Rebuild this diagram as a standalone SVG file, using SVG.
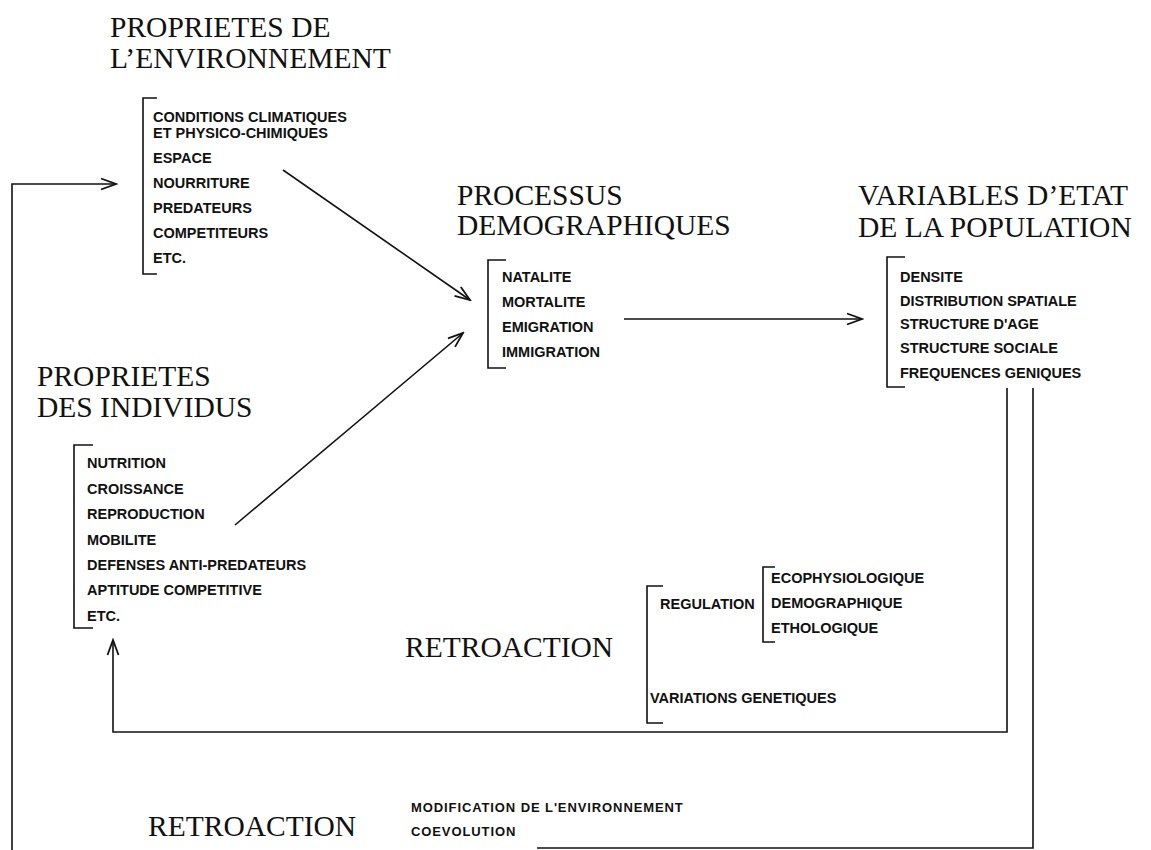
<svg xmlns="http://www.w3.org/2000/svg" width="1151" height="850" viewBox="0 0 1151 850">
  <style>
    .title { font-family: "Liberation Serif", "Times New Roman", serif; font-size: 29.5px; fill: #111; }
    .item { font-family: "Liberation Sans", Arial, sans-serif; font-size: 14.5px; font-weight: bold; fill: #111; }
    .small { font-family: "Liberation Sans", Arial, sans-serif; font-size: 13px; font-weight: bold; letter-spacing: 0.9px; fill: #111; }
    .bracket { fill: none; stroke: #111; stroke-width: 1.6; }
    .link { fill: none; stroke: #111; stroke-width: 1.6; }
  </style>
  <defs>
    <marker id="arrow" markerUnits="userSpaceOnUse" viewBox="-16 -7 18 14" refX="0" refY="0" markerWidth="18" markerHeight="14" orient="auto">
      <path d="M-15,-5.5 L0,0 L-15,5.5" fill="none" stroke="#111" stroke-width="1.8"/>
    </marker>
  </defs>
  <rect width="1151" height="850" fill="#fff"/>

  <!-- environment properties -->
  <g id="environnement">
    <text class="title" x="110" y="37">PROPRIETES DE</text>
    <text class="title" x="110" y="68">L’ENVIRONNEMENT</text>
    <path class="bracket" d="M157,98 H143 V274 H157"/>
    <text class="item" x="153" y="122">CONDITIONS CLIMATIQUES</text>
    <text class="item" x="153" y="138">ET PHYSICO-CHIMIQUES</text>
    <text class="item" x="153" y="163">ESPACE</text>
    <text class="item" x="153" y="188">NOURRITURE</text>
    <text class="item" x="153" y="213">PREDATEURS</text>
    <text class="item" x="153" y="238">COMPETITEURS</text>
    <text class="item" x="153" y="263">ETC.</text>
  </g>

  <!-- demographic processes -->
  <g id="processus">
    <text class="title" x="457" y="205">PROCESSUS</text>
    <text class="title" x="457" y="235">DEMOGRAPHIQUES</text>
    <path class="bracket" d="M506,260 H488 V368 H506"/>
    <text class="item" x="502" y="282">NATALITE</text>
    <text class="item" x="502" y="307">MORTALITE</text>
    <text class="item" x="502" y="332">EMIGRATION</text>
    <text class="item" x="502" y="357">IMMIGRATION</text>
  </g>

  <!-- population state variables -->
  <g id="variables">
    <text class="title" x="858" y="205">VARIABLES D’ETAT</text>
    <text class="title" x="858" y="237">DE LA POPULATION</text>
    <path class="bracket" d="M905,257 H887 V387 H905"/>
    <text class="item" x="900" y="282">DENSITE</text>
    <text class="item" x="900" y="306">DISTRIBUTION SPATIALE</text>
    <text class="item" x="900" y="329">STRUCTURE D'AGE</text>
    <text class="item" x="900" y="353">STRUCTURE SOCIALE</text>
    <text class="item" x="900" y="378">FREQUENCES GENIQUES</text>
  </g>

  <!-- individual properties -->
  <g id="individus">
    <text class="title" x="37" y="386">PROPRIETES</text>
    <text class="title" x="37" y="417">DES INDIVIDUS</text>
    <path class="bracket" d="M93,445 H74 V628 H93"/>
    <text class="item" x="87" y="468">NUTRITION</text>
    <text class="item" x="87" y="494">CROISSANCE</text>
    <text class="item" x="87" y="519">REPRODUCTION</text>
    <text class="item" x="87" y="545">MOBILITE</text>
    <text class="item" x="87" y="570">DEFENSES ANTI-PREDATEURS</text>
    <text class="item" x="87" y="595">APTITUDE COMPETITIVE</text>
    <text class="item" x="87" y="621">ETC.</text>
  </g>

  <!-- inner feedback -->
  <g id="retroaction-regulation">
    <text class="title" x="405" y="657">RETROACTION</text>
    <path class="bracket" d="M663,586 H647 V723 H663"/>
    <text class="item" x="660" y="609">REGULATION</text>
    <path class="bracket" d="M775,567 H763 V642 H775"/>
    <text class="item" x="771" y="583">ECOPHYSIOLOGIQUE</text>
    <text class="item" x="771" y="608">DEMOGRAPHIQUE</text>
    <text class="item" x="771" y="633">ETHOLOGIQUE</text>
    <text class="item" x="650" y="703">VARIATIONS GENETIQUES</text>
  </g>

  <!-- outer feedback -->
  <g id="retroaction-environnement">
    <text class="title" x="148" y="836">RETROACTION</text>
    <text class="small" x="411" y="812">MODIFICATION DE L'ENVIRONNEMENT</text>
    <text class="small" x="411" y="836">COEVOLUTION</text>
  </g>

  <!-- connectors -->
  <g id="connectors">
    <path class="link" d="M283,170 L470,300" marker-end="url(#arrow)"/>
    <path class="link" d="M235,525 L463,333" marker-end="url(#arrow)"/>
    <path class="link" d="M624,319 H862" marker-end="url(#arrow)"/>
    <path class="link" d="M1007,388 V732 H113 V640" marker-end="url(#arrow)"/>
    <path class="link" d="M1033,388 V848 H537"/>
    <path class="link" d="M12,850 V184 H116" marker-end="url(#arrow)"/>
  </g>
</svg>
